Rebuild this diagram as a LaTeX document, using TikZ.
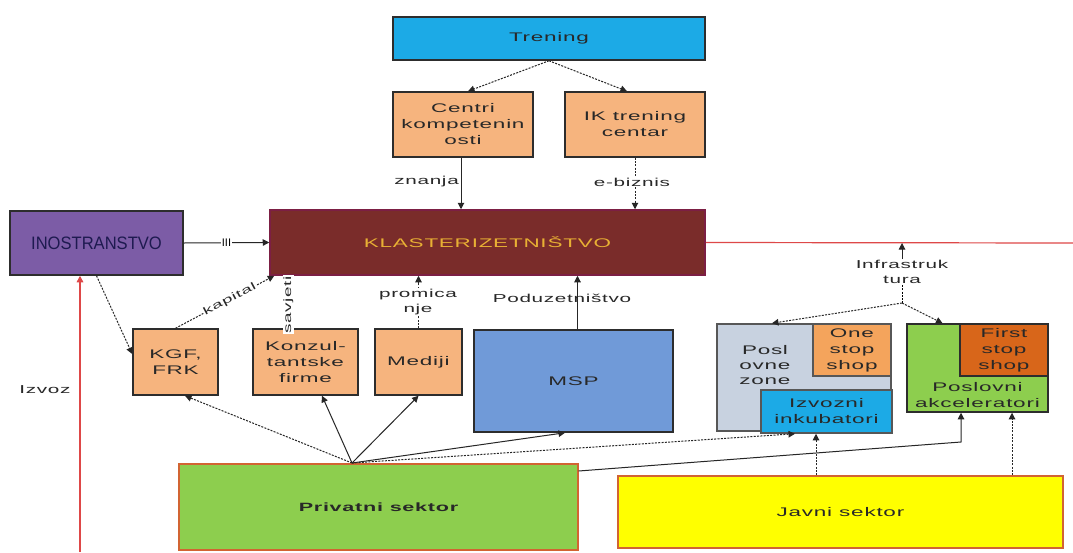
\documentclass[tikz,border=0pt]{standalone}
\usepackage{fontspec}
\setmainfont{Liberation Sans}
\newfontfamily\widefont{Liberation Sans}[FakeStretch=1.8,LetterSpace=6]
\newfontfamily\narrowfont{Liberation Sans}[FakeStretch=0.92]
\usetikzlibrary{arrows.meta}
\definecolor{cTrening}{RGB}{28,170,230}
\definecolor{cPeach}{RGB}{246,180,126}
\definecolor{cKlaster}{RGB}{122,44,42}
\definecolor{cGold}{RGB}{232,176,52}
\definecolor{cIno}{RGB}{124,92,166}
\definecolor{cNavy}{RGB}{30,26,80}
\definecolor{cMsp}{RGB}{112,154,216}
\definecolor{cZone}{RGB}{200,210,224}
\definecolor{cOne}{RGB}{244,164,92}
\definecolor{cFirst}{RGB}{216,102,26}
\definecolor{cGreen}{RGB}{141,206,78}
\definecolor{cYellow}{RGB}{255,255,0}
\definecolor{cEdgeO}{RGB}{210,100,50}
\definecolor{cRed}{RGB}{222,72,72}
\definecolor{cLine}{RGB}{45,45,45}
\definecolor{cText}{RGB}{40,40,40}
\tikzset{
  box/.style={draw=cLine, line width=1.5pt, inner sep=0pt, align=center,
    text=cText, font=\widefont\fontsize{12.5}{16}\selectfont},
  lbl/.style={inner sep=1pt, align=center, text=cText,
    font=\widefont\fontsize{11.5}{15}\selectfont},
  arr/.style={-{Triangle[length=6.5pt,width=6.5pt]}, line width=1pt, draw=black!85},
  dotl/.style={dash pattern=on 2pt off 1.3pt}
}
\begin{document}
\begin{tikzpicture}[x=1pt,y=-1pt]
\useasboundingbox[fill=white] (0,0) rectangle (1073,552);
% boxes
\node[box, fill=cTrening, minimum width=312, minimum height=43] (trening) at (549,38.5) {Trening};
\node[box, fill=cPeach, minimum width=140, minimum height=65] (centri) at (463,124.5) {Centri\\kompetenin\\osti};
\node[box, fill=cPeach, minimum width=140, minimum height=65] (ik) at (635,124.5) {IK trening\\centar};
\node[box, draw=cKlaster!70!violet, fill=cKlaster, minimum width=435, minimum height=65, text=cGold] (klaster) at (487.5,242.5) {KLASTERIZETNIŠTVO};
\node[box, fill=cIno, minimum width=173, minimum height=64, text=cNavy, font=\narrowfont\fontsize{18}{19}\selectfont] (ino) at (96.5,243) {INOSTRANSTVO};
\node[box, fill=cPeach, minimum width=85, minimum height=66] (kgf) at (175.5,362) {KGF,\\FRK};
\node[box, fill=cPeach, minimum width=105, minimum height=66] (konzul) at (305.5,362) {Konzul-\\tantske\\firme};
\node[box, fill=cPeach, minimum width=87, minimum height=66] (mediji) at (418.5,362) {Mediji};
\node[box, fill=cMsp, minimum width=199, minimum height=102] (msp) at (573.5,381) {MSP};
\node[box, draw=cLine!80, fill=cZone, minimum width=174, minimum height=107] (zone) at (804,377.5) {};
\node[lbl, font=\widefont\fontsize{12.5}{15}\selectfont] (zonelbl) at (765,365) {Posl\\ovne\\zone};
\node[box, draw=cLine!80, fill=cOne, minimum width=78, minimum height=52] (onestop) at (852,350) {One\\stop\\shop};
\node[box, draw=cLine!80, fill=cTrening, minimum width=131, minimum height=43] (izvozni) at (826.5,411.5) {Izvozni\\inkubatori};
\node[box, fill=cGreen, minimum width=141, minimum height=88] (akcel) at (977.5,368) {};
\node[box, fill=cFirst, minimum width=88, minimum height=52] (firststop) at (1004,350) {First\\stop\\shop};
\node[lbl, font=\widefont\fontsize{12.5}{16}\selectfont] (akcellbl) at (977.5,395) {Poslovni\\akceleratori};
\node[box, draw=cEdgeO, line width=1.2pt, fill=cGreen, minimum width=399, minimum height=86, font=\widefont\bfseries\fontsize{12}{14}\selectfont] (privatni) at (378.5,507) {Privatni sektor};
\node[box, draw=cEdgeO, line width=1.4pt, fill=cYellow, minimum width=445, minimum height=72] (javni) at (840.5,512) {Javni sektor};
% coordinates
\coordinate (izvozBottom) at (80,552);
\coordinate (redEnd) at (1073,243);
\coordinate (infraTip) at (902,243);
\coordinate (infraHub) at (902,303);
\coordinate (pvHub) at (352,463);
\coordinate (pvBend) at (961,442);
% top
\draw[arr, dotl] (trening.south) -- ([xshift=5pt]centri.north);
\draw[arr, dotl] (trening.south) -- ([xshift=-8pt]ik.north);
\draw[arr] ([xshift=-2pt]centri.south) -- ([xshift=-2pt]centri.south |- klaster.north);
\node[lbl, anchor=east] (znanja) at (460,182) {znanja};
\draw[arr, dotl] (ik.south) -- (ik.south |- klaster.north);
\node[lbl, fill=white] (ebiz) at (632,182) {e-biznis};
% ino
\draw[arr] (ino.east) -- (klaster.west) node[midway, fill=white, inner sep=1pt, font=\fontsize{11}{11}\selectfont, text=black] (iii) {III};
\draw[arr, draw=cRed, line width=1.4pt] (izvozBottom) -- (izvozBottom |- ino.south);
\node[lbl] (izvoz) at (45,390) {Izvoz};
\draw[draw=cRed, line width=1.2pt] (klaster.east) -- (redEnd);
\draw[arr, dotl] ([xshift=0pt]ino.south) -- ([yshift=8pt]kgf.west);
\draw[arr, dotl] (kgf.north) -- ([xshift=5pt]klaster.south west) node[pos=0.55, sloped, fill=white, inner sep=0.5pt, font=\widefont\fontsize{10.5}{12}\selectfont, text=cText] (kapital) {kapital};
\draw[arr, dotl] ([xshift=-17pt]konzul.north) -- ([xshift=-17pt]konzul.north |- klaster.south) node[pos=0.45, rotate=90, fill=white, inner sep=0.5pt, font=\widefont\fontsize{10.5}{12}\selectfont, text=cText] (savjeti) {savjeti};
\draw[arr, dotl] (mediji.north) -- (mediji.north |- klaster.south);
\node[lbl, fill=white] (promica) at (418,302) {promica\\nje};
\node[lbl] (poduz) at (562,298) {Poduzetništvo};
\draw[arr] ([xshift=4pt]msp.north) -- ([xshift=4pt]msp.north |- klaster.south);
% infrastruktura
\node[lbl, fill=white] (infra) at (902,272) {Infrastruk\\tura};
\draw[arr] (infra.north) -- (infraTip);
\draw[dotl, line width=1pt] (infra.south) -- (infraHub);
\draw[arr, dotl] (infraHub) -- ([xshift=-32pt]zone.north);
\draw[arr, dotl] (infraHub) -- ([xshift=-35pt]akcel.north);
% privatni
\draw[arr, dotl] (pvHub) -- ([xshift=9.5pt]kgf.south);
\draw[arr] (pvHub) -- ([xshift=16.5pt]konzul.south);
\draw[arr] (pvHub) -- (mediji.south);
\draw[arr] (pvHub) -- ([xshift=-8.5pt]msp.south);
\draw[arr, dotl] (pvHub) -- ([xshift=-31.5pt]izvozni.south);
\draw[arr] ([yshift=36pt]privatni.east) -- (pvBend) -- (pvBend |- akcel.south);
% javni
\draw[arr, dotl] ([xshift=-24.5pt]javni.north) -- ([xshift=-24.5pt]javni.north |- izvozni.south);
\draw[arr, dotl] ([xshift=34.5pt]akcel.south |- javni.north) -- ([xshift=34.5pt]akcel.south);
\end{tikzpicture}
\end{document}
